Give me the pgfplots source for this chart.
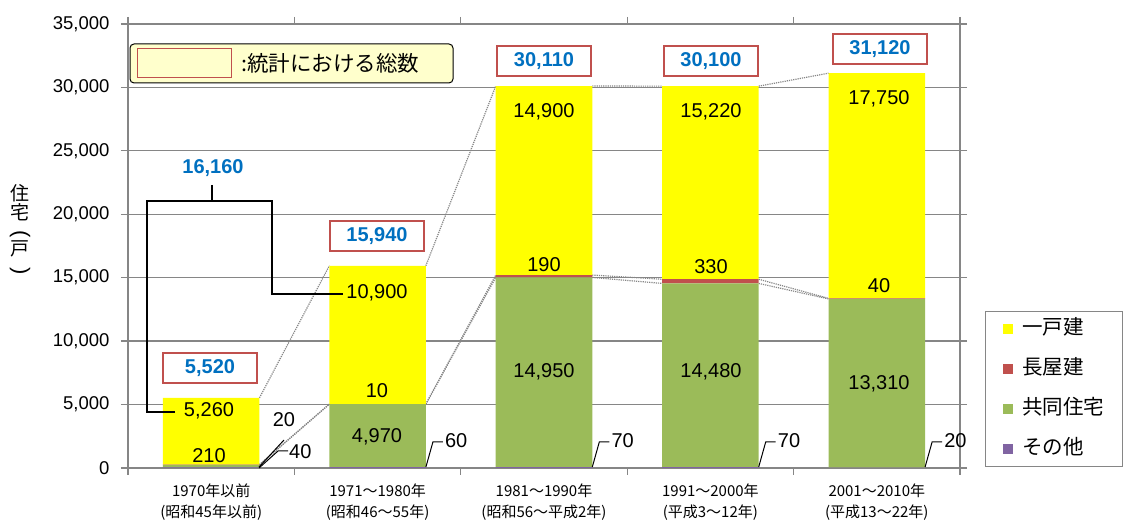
\documentclass[border=0pt]{standalone}
\usepackage{pgfplots}
\pgfplotsset{compat=1.18}
\usepackage{fontspec}
\setmainfont{Liberation Sans}
\newfontfamily\cjk{Noto Sans CJK JP}
\definecolor{cYel}{HTML}{FFFF00}
\definecolor{cRed}{HTML}{C0504D}
\definecolor{cGrn}{HTML}{9BBB59}
\definecolor{cPur}{HTML}{8064A2}
\definecolor{cBlu}{HTML}{0070C0}
\definecolor{cGrid}{HTML}{868686}
\definecolor{cBoxY}{HTML}{FFFFCC}
\newcommand{\pp}[2]{({(#1)-128},{468-(#2)})}
\newcommand{\numf}{\fontsize{20bp}{20bp}\selectfont}
\begin{document}
\begin{tikzpicture}[x=1bp,y=1bp]
\useasboundingbox \pp{0}{0} rectangle \pp{1137}{523};
\begin{axis}[
  at={(0,0)}, anchor=south west,
  scale only axis, width=832bp, height=444bp,
  ybar stacked, bar width=0.58,
  xmin=-0.5, xmax=4.5, ymin=0, ymax=35000,
  xtick={0,1,2,3,4},
  xticklabels={{1970年以前\\(昭和45年以前)},{1971～1980年\\(昭和46～55年)},{1981～1990年\\(昭和56～平成2年)},{1991～2000年\\(平成3～12年)},{2001～2010年\\(平成13～22年)}},
  xticklabel style={font=\cjk\fontsize{15bp}{21bp}\selectfont, align=center, yshift=-5bp},
  major x tick style={draw=none},
  extra x ticks={-0.5,0.5,1.5,2.5,3.5,4.5},
  extra x tick labels={},
  extra x tick style={grid=none, major tick length=7bp, major x tick style={draw=cGrid, line width=1.3bp}},
  ytick={0,5000,...,35000},
  scaled y ticks=false,
  yticklabel style={font=\fontsize{18.5bp}{18.5bp}\selectfont, xshift=-8bp},
  /pgf/number format/.cd, 1000 sep={,}, assume math mode=true, /pgfplots/.cd,
  tick align=outside, major tick length=7bp,
  tick style={cGrid, line width=1.3bp},
  ymajorgrids, grid style={cGrid, line width=1.3bp},
  axis line style={cGrid, line width=1.3bp},
  legend style={at={(1.03005,0.00225)}, anchor=south west, draw=cGrid, line width=0.8bp,
    font=\cjk\fontsize{20.5bp}{20.5bp}\selectfont, row sep=21bp, inner xsep=18bp, inner ysep=8bp,
    nodes={inner sep=0pt, text height=15bp, text depth=4bp},
    /tikz/every odd column/.append style={column sep=9bp}},
  legend cell align=left,
  legend image code/.code={\fill[#1] (0bp,-5bp) rectangle (10bp,5bp);},
  reverse legend,
]
\addplot[fill=cPur, draw=none] coordinates {(0,40) (1,60) (2,70) (3,70) (4,20)};
\addplot[fill=cGrn, draw=none] coordinates {(0,210) (1,4970) (2,14950) (3,14480) (4,13310)};
\addplot[fill=cRed, draw=none] coordinates {(0,20) (1,10) (2,190) (3,330) (4,40)};
\addplot[fill=cYel, draw=none] coordinates {(0,5260) (1,10900) (2,14900) (3,15220) (4,17750)};
\legend{その他,共同住宅,長屋建,一戸建}
% series lines
\draw[cGrid, densely dotted, line width=1.2bp] (axis cs:0.29,250) -- (axis cs:0.71,5030);
\draw[cGrid, densely dotted, line width=1.2bp] (axis cs:0.29,270) -- (axis cs:0.71,5040);
\draw[cGrid, densely dotted, line width=1.2bp] (axis cs:0.29,5530) -- (axis cs:0.71,15940);
\draw[cGrid, densely dotted, line width=1.2bp] (axis cs:1.29,5030) -- (axis cs:1.71,15020);
\draw[cGrid, densely dotted, line width=1.2bp] (axis cs:1.29,5040) -- (axis cs:1.71,15210);
\draw[cGrid, densely dotted, line width=1.2bp] (axis cs:1.29,15940) -- (axis cs:1.71,30110);
\draw[cGrid, densely dotted, line width=1.2bp] (axis cs:2.29,15020) -- (axis cs:2.71,14550);
\draw[cGrid, densely dotted, line width=1.2bp] (axis cs:2.29,15210) -- (axis cs:2.71,14880);
\draw[cGrid, densely dotted, line width=1.2bp] (axis cs:2.29,30110) -- (axis cs:2.71,30100);
\draw[cGrid, densely dotted, line width=1.2bp] (axis cs:3.29,14550) -- (axis cs:3.71,13330);
\draw[cGrid, densely dotted, line width=1.2bp] (axis cs:3.29,14880) -- (axis cs:3.71,13370);
\draw[cGrid, densely dotted, line width=1.2bp] (axis cs:3.29,30100) -- (axis cs:3.71,31120);
\end{axis}
% y label
\begin{scope}[every node/.style={font=\cjk\fontsize{19bp}{19bp}\selectfont, inner sep=0pt}]
\node at \pp{20}{193} {住};
\node at \pp{20}{212} {宅};
\node at \pp{20}{249} {戸};
\end{scope}
\begin{scope}[every node/.style={font=\fontsize{22bp}{22bp}\selectfont, inner sep=0pt, rotate=-90}]
\node at \pp{20}{234} {(};
\node at \pp{20}{271} {)};
\end{scope}
% statistics key
\draw[rounded corners=4bp, fill=cBoxY, line width=1bp] \pp{130}{44} rectangle \pp{453}{83};
\draw[cRed, fill=cBoxY, line width=1bp] \pp{137}{49} rectangle \pp{231}{78};
\node[anchor=west, inner sep=0pt, font=\cjk\fontsize{21.5bp}{21.5bp}\selectfont] at \pp{241}{63} {:統計における総数};
% totals boxes
\begin{scope}[every node/.style={draw=cRed, fill=white, line width=1.2bp, minimum width=94bp, minimum height=30bp, inner sep=0pt, text=cBlu, font=\bfseries\fontsize{20bp}{20bp}\selectfont}]
\node at \pp{210}{368} {5,520};
\node at \pp{377}{236} {15,940};
\node at \pp{544}{61} {30,110};
\node at \pp{711}{61} {30,100};
\node at \pp{880}{49} {31,120};
\end{scope}
% data labels
\begin{scope}[every node/.style={font=\numf, inner sep=0pt}]
\node at \pp{209}{411} {5,260};
\node at \pp{209}{456} {210};
\node at \pp{377}{293} {10,900};
\node at \pp{377}{391} {10};
\node at \pp{377}{437} {4,970};
\node at \pp{544}{112} {14,900};
\node at \pp{544}{265} {190};
\node at \pp{544}{372} {14,950};
\node at \pp{711}{112} {15,220};
\node at \pp{711}{267} {330};
\node at \pp{711}{372} {14,480};
\node at \pp{879}{99} {17,750};
\node at \pp{879}{286} {40};
\node at \pp{879}{384} {13,310};
\node at \pp{284}{420} {20};
\node[anchor=west] at \pp{289}{452} {40};
\end{scope}
% leaders for small values
\draw[black, line width=1bp] \pp{259}{467} -- \pp{284}{440};
\draw[black, line width=1bp] \pp{259}{468} -- \pp{278}{451} -- \pp{288}{451};
\foreach \r/\lab in {425.9/60, 592.3/70, 758.7/70, 925.1/20} {
  \draw[black, line width=1bp] \pp{\r}{467} -- \pp{\r+7}{442} -- \pp{\r+17}{442};
  \node[anchor=west, inner sep=0pt, font=\numf] at \pp{\r+19}{441} {\lab};
}
% bracket for 一戸建 sum
\draw[black, line width=1.2bp] \pp{212}{185} -- \pp{212}{201};
\draw[black, line width=1.2bp] \pp{175}{412} -- \pp{147}{412} -- \pp{147}{201} -- \pp{272}{201} -- \pp{272}{294} -- \pp{343}{294};
\node[text=cBlu, inner sep=0pt, font=\bfseries\fontsize{20bp}{20bp}\selectfont] at \pp{213}{168} {16,160};
\end{tikzpicture}
\end{document}
